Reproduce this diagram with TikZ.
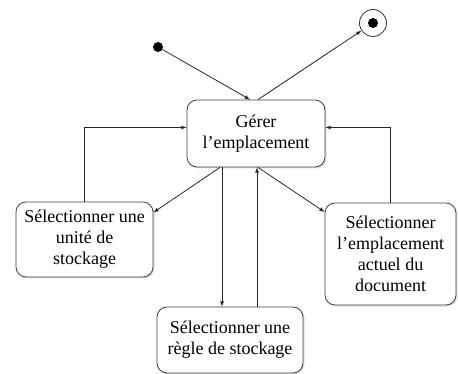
\documentclass[tikz,border=0pt]{standalone}
\usepackage{fontspec}
\setmainfont{Liberation Serif}
\usetikzlibrary{arrows,shadows,calc,positioning}
\definecolor{boxLine}{rgb}{0.25 0.25 0.25}

\begin{document}
\begin{tikzpicture}[x=1pt,y=-1pt,>=latex,
    every node/.style={font=\fontsize{18}{21}\selectfont},
    etat/.style={draw=boxLine,thick,rounded corners=10pt,fill=white,align=center,
      inner sep=2pt,drop shadow={opacity=0.25,shadow xshift=1.5pt,shadow yshift=-1.5pt}},
    trans/.style={->,thick,draw=black!85}]

      \useasboundingbox (0,0) rectangle (458,374);

      % the states
      \node[etat,minimum width=138pt,minimum height=67pt] (gerer) at (256,133.5) {G\'erer\\l’emplacement};
      \node[etat,minimum width=137pt,minimum height=75pt] (unite) at (84.5,239.5) {S\'electionner une\\unit\'e de\\stockage};
      \node[etat,minimum width=131pt,minimum height=102pt] (actuel) at (390.5,254) {S\'electionner\\l’emplacement\\actuel du\\document};
      \node[etat,minimum width=146pt,minimum height=66pt] (regle) at (230,340) {S\'electionner une\\r\`egle de stockage};

      % initial and final states
      \node[circle,fill=black,inner sep=0pt,minimum size=10pt] (debut) at (158,47) {};
      \node[circle,draw=black!80,thick,fill=white,inner sep=0pt,minimum size=27pt] (fin) at (373,23) {};
      \node[circle,fill=black,inner sep=0pt,minimum size=10pt] at (fin.center) {};

      % the transitions
      \draw[trans] (debut) -- ([xshift=-6pt]gerer.north);
      \draw[trans] ([xshift=2pt]gerer.north) -- (fin);
      \draw[trans] (unite.north) |- ([yshift=6pt]gerer.west);
      \draw[trans] (actuel.north) |- ([yshift=6pt]gerer.east);
      \draw[trans] ([xshift=-36pt]gerer.south) -- ([yshift=27pt]unite.east);
      \draw[trans] ([xshift=2pt]gerer.south) -- ([yshift=42pt]actuel.west);
      \draw[trans] ([xshift=-34pt]gerer.south) -- ([xshift=-34pt]gerer.south |- regle.north);
      \draw[trans] ([xshift=27pt]regle.north) -- ([xshift=27pt]regle.north |- gerer.south);

\end{tikzpicture}
\end{document}
